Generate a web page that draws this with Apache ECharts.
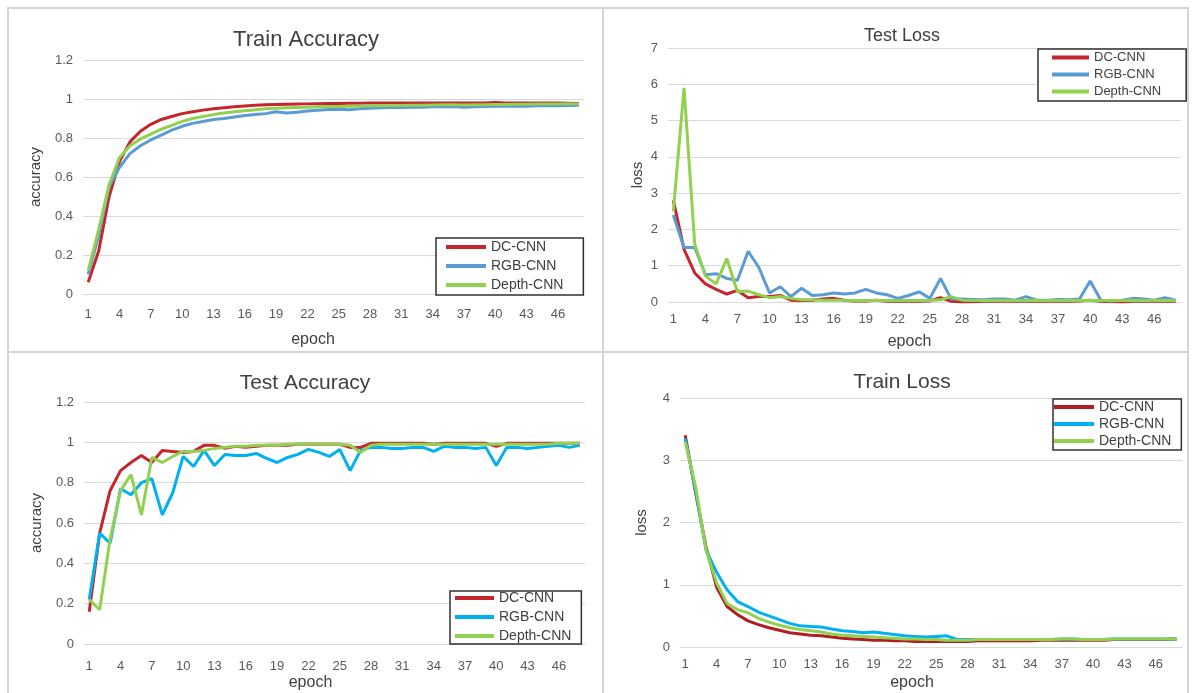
<!DOCTYPE html>
<html>
<head>
<meta charset="utf-8">
<script src="https://cdn.jsdelivr.net/npm/echarts@6/dist/echarts.min.js"></script>
<style>html,body{margin:0;padding:0;background:#fff;}#c{width:1195px;height:693px;}</style>
</head>
<body>
<div id="c"></div>
<script>
const epochs = ['1','2','3','4','5','6','7','8','9','10','11','12','13','14','15','16','17','18','19','20','21','22','23','24','25','26','27','28','29','30','31','32','33','34','35','36','37','38','39','40','41','42','43','44','45','46','47','48'];
const seriesNames = ['DC-CNN', 'RGB-CNN', 'Depth-CNN'];

const trainAccDC = [0.06,0.22,0.50,0.68,0.78,0.835,0.87,0.895,0.91,0.925,0.935,0.943,0.95,0.955,0.96,0.964,0.968,0.97,0.972,0.973,0.974,0.975,0.976,0.977,0.977,0.978,0.978,0.979,0.979,0.98,0.98,0.98,0.979,0.979,0.98,0.979,0.979,0.98,0.98,0.982,0.98,0.98,0.98,0.979,0.98,0.979,0.978,0.977];
const trainAccRGB = [0.10,0.30,0.55,0.65,0.72,0.76,0.79,0.815,0.84,0.86,0.875,0.885,0.895,0.9,0.908,0.915,0.92,0.925,0.935,0.928,0.932,0.938,0.942,0.946,0.948,0.945,0.95,0.952,0.955,0.956,0.957,0.958,0.958,0.96,0.96,0.962,0.958,0.96,0.962,0.963,0.963,0.964,0.963,0.965,0.966,0.966,0.967,0.968];
const trainAccDepth = [0.12,0.33,0.56,0.70,0.76,0.795,0.82,0.845,0.865,0.885,0.9,0.91,0.92,0.928,0.935,0.94,0.945,0.95,0.953,0.955,0.957,0.958,0.96,0.961,0.962,0.963,0.964,0.965,0.966,0.967,0.967,0.968,0.968,0.969,0.97,0.97,0.969,0.97,0.971,0.972,0.972,0.973,0.973,0.974,0.975,0.975,0.976,0.975];

const testLossDC = [2.8,1.45,0.8,0.5,0.35,0.22,0.32,0.12,0.15,0.15,0.18,0.05,0.04,0.05,0.08,0.1,0.05,0.03,0.03,0.05,0.02,0.02,0.03,0.02,0.03,0.12,0.02,0,0.01,0.02,0.02,0.02,0.02,0.02,0.02,0.02,0.02,0.02,0.03,0.05,0.02,0.01,0,0.02,0.02,0.02,0.02,0.02];
const testLossRGB = [2.4,1.5,1.5,0.75,0.78,0.65,0.6,1.4,0.95,0.25,0.42,0.15,0.38,0.18,0.2,0.25,0.22,0.25,0.35,0.25,0.2,0.1,0.18,0.28,0.1,0.65,0.08,0.08,0.07,0.06,0.08,0.08,0.05,0.15,0.05,0.05,0.07,0.06,0.08,0.58,0.05,0.03,0.05,0.1,0.08,0.05,0.12,0.05];
const testLossDepth = [2.5,5.9,1.6,0.72,0.5,1.2,0.28,0.3,0.2,0.12,0.15,0.1,0.06,0.06,0.05,0.05,0.05,0.04,0.04,0.04,0.04,0.04,0.04,0.04,0.04,0.06,0.15,0.05,0.04,0.04,0.04,0.04,0.04,0.04,0.04,0.04,0.04,0.04,0.04,0.04,0.04,0.04,0.04,0.04,0.04,0.04,0.04,0.04];

const testAccDC = [0.16,0.55,0.76,0.86,0.9,0.935,0.9,0.96,0.955,0.95,0.955,0.985,0.985,0.97,0.98,0.975,0.98,0.985,0.985,0.985,0.99,0.99,0.99,0.99,0.99,0.975,0.975,0.995,0.995,0.995,0.995,0.995,0.995,0.99,0.995,0.995,0.995,0.995,0.995,0.98,0.995,0.995,0.995,0.995,0.995,0.995,0.995,0.995];
const testAccRGB = [0.22,0.55,0.5,0.77,0.74,0.8,0.82,0.64,0.75,0.93,0.88,0.96,0.885,0.94,0.935,0.935,0.945,0.92,0.9,0.925,0.94,0.965,0.95,0.93,0.965,0.86,0.96,0.975,0.975,0.97,0.97,0.975,0.975,0.955,0.98,0.975,0.975,0.97,0.975,0.885,0.975,0.975,0.97,0.975,0.98,0.985,0.975,0.985];
const testAccDepth = [0.22,0.17,0.52,0.76,0.84,0.64,0.925,0.9,0.93,0.955,0.955,0.96,0.97,0.975,0.98,0.98,0.985,0.985,0.985,0.99,0.99,0.99,0.99,0.99,0.99,0.985,0.95,0.985,0.99,0.99,0.99,0.99,0.99,0.99,0.99,0.99,0.99,0.99,0.99,0.99,0.99,0.99,0.99,0.99,0.99,0.995,0.995,0.995];

const trainLossDC = [3.4,2.47,1.6,0.96,0.65,0.52,0.42,0.36,0.31,0.27,0.23,0.21,0.19,0.18,0.16,0.14,0.13,0.12,0.11,0.11,0.1,0.1,0.09,0.09,0.09,0.09,0.09,0.09,0.1,0.1,0.1,0.1,0.1,0.1,0.11,0.11,0.11,0.11,0.11,0.11,0.11,0.12,0.12,0.12,0.12,0.12,0.12,0.13];
const trainLossRGB = [3.35,2.5,1.55,1.2,0.92,0.73,0.65,0.56,0.5,0.44,0.38,0.34,0.33,0.32,0.29,0.26,0.25,0.23,0.24,0.22,0.2,0.18,0.17,0.16,0.17,0.18,0.12,0.12,0.12,0.12,0.12,0.12,0.12,0.12,0.12,0.12,0.13,0.13,0.12,0.12,0.12,0.13,0.13,0.13,0.13,0.13,0.13,0.13];
const trainLossDepth = [3.3,2.57,1.55,1.03,0.7,0.6,0.55,0.46,0.4,0.35,0.31,0.28,0.26,0.24,0.21,0.19,0.18,0.17,0.16,0.15,0.14,0.13,0.13,0.12,0.12,0.11,0.11,0.11,0.12,0.12,0.12,0.12,0.12,0.12,0.12,0.12,0.13,0.13,0.12,0.12,0.12,0.13,0.13,0.13,0.13,0.13,0.13,0.13];

const titles = ['Train Accuracy', 'Test Loss', 'Test Accuracy', 'Train Loss'];
const yNames = ['accuracy', 'loss', 'accuracy', 'loss'];

const FONT = 'Liberation Sans, Arial, sans-serif';
const RED = '#C4262C';
const GREEN = '#92D050';
const BLUE1 = '#5B9BD5';
const BLUE2 = '#00B0F0';

const panels = [
  {grid:{left:83, top:60, width:501, height:234}, y:{min:0, max:1.2, interval:0.2}, data:[trainAccDC, trainAccRGB, trainAccDepth], colors:[RED, BLUE1, GREEN],
   title:{x:306, y:29, size:22}, yGap:40, xGap:38, xLabelMargin:14, xNamePad:41,
   legend:{left:436, top:238, padding:[2,20,3,10], itemGap:5, itemWidth:40, fontSize:14}},
  {grid:{left:668, top:48, width:513, height:254}, y:{min:0, max:7, interval:1}, data:[testLossDC, testLossRGB, testLossDepth], colors:[RED, BLUE1, GREEN],
   title:{x:902, y:27, size:18}, yGap:23, xGap:32, xLabelMargin:11, xNamePad:30,
   legend:{left:1038, top:49, padding:[2,25,3,14], itemGap:4, itemWidth:37, fontSize:13}},
  {grid:{left:84, top:402, width:501, height:242}, y:{min:0, max:1.2, interval:0.2}, data:[testAccDC, testAccRGB, testAccDepth], colors:[RED, BLUE2, GREEN],
   title:{x:305, y:373, size:21}, yGap:40, xGap:31, xLabelMargin:16, xNamePad:48,
   legend:{left:450, top:591, padding:[0,10,1,5], itemGap:5, itemWidth:39, fontSize:14}},
  {grid:{left:680, top:398, width:502, height:249}, y:{min:0, max:4, interval:1}, data:[trainLossDC, trainLossRGB, trainLossDepth], colors:['#B01E24', BLUE2, GREEN],
   title:{x:902, y:372, size:21}, yGap:31, xGap:28, xLabelMargin:11, xNamePad:38,
   legend:{left:1053, top:399, padding:[1,10,2,1], itemGap:3, itemWidth:40, fontSize:14}}
];

const option = {
  backgroundColor: '#ffffff',
  animation: false,
  textStyle: {fontFamily: FONT},
  title: [], grid: [], xAxis: [], yAxis: [], legend: [], series: [],
  graphic: [
    {type:'rect', shape:{x:8, y:8, width:595, height:344}, style:{fill:null, stroke:'#d4d4d4', lineWidth:2}},
    {type:'rect', shape:{x:603, y:8, width:585, height:344}, style:{fill:null, stroke:'#d4d4d4', lineWidth:2}},
    {type:'rect', shape:{x:8, y:352, width:595, height:345}, style:{fill:null, stroke:'#d4d4d4', lineWidth:2}},
    {type:'rect', shape:{x:603, y:352, width:585, height:345}, style:{fill:null, stroke:'#d4d4d4', lineWidth:2}}
  ]
};

panels.forEach((p, i) => {
  option.title.push({
    text: titles[i], left: p.title.x, top: p.title.y, textAlign: 'center', padding: 0,
    textStyle: {fontFamily: FONT, fontSize: p.title.size, fontWeight: 'normal', color: '#404040'}
  });
  option.grid.push(Object.assign({containLabel:false}, p.grid));
  option.xAxis.push({
    type: 'category', gridIndex: i, data: epochs, boundaryGap: true,
    name: 'epoch', nameLocation: 'middle', nameGap: p.xGap,
    nameTextStyle: {fontFamily: FONT, fontSize: 16, color: '#404040', padding: [0, p.xNamePad, 0, 0]},
    axisLine: {show: true, lineStyle: {color: '#d9d9d9', width: 1}},
    axisTick: {show: false},
    axisLabel: {interval: 2, margin: p.xLabelMargin, fontFamily: FONT, fontSize: 13, color: '#595959'},
    splitLine: {show: false}
  });
  option.yAxis.push({
    type: 'value', gridIndex: i, min: p.y.min, max: p.y.max, interval: p.y.interval,
    name: yNames[i], nameLocation: 'middle', nameGap: p.yGap,
    nameTextStyle: {fontFamily: FONT, fontSize: 15, color: '#404040'},
    axisLine: {show: false}, axisTick: {show: false},
    axisLabel: {margin: 10, fontFamily: FONT, fontSize: 13, color: '#595959'},
    splitLine: {show: true, lineStyle: {color: '#d9d9d9', width: 1}}
  });
  option.legend.push({
    orient: 'vertical', left: p.legend.left, top: p.legend.top, padding: p.legend.padding,
    itemGap: p.legend.itemGap, itemWidth: p.legend.itemWidth, itemHeight: 4, icon: 'rect',
    borderColor: '#303030', borderWidth: 1.5, backgroundColor: '#ffffff', selectedMode: false,
    textStyle: {fontFamily: FONT, fontSize: p.legend.fontSize, color: '#404040'},
    data: seriesNames.map((n, k) => ({name: n, itemStyle: {color: p.colors[k]}}))
  });
  seriesNames.forEach((n, k) => {
    option.series.push({
      type: 'line', name: n, xAxisIndex: i, yAxisIndex: i, data: p.data[k],
      showSymbol: false, symbol: 'none', smooth: false, z: 3 - k === 0 ? 1 : 3,
      lineStyle: {color: p.colors[k], width: 3}, itemStyle: {color: p.colors[k]}
    });
  });
});

const chart = echarts.init(document.getElementById('c'), null, {renderer: 'canvas'});
chart.setOption(option);
</script>
</body>
</html>
